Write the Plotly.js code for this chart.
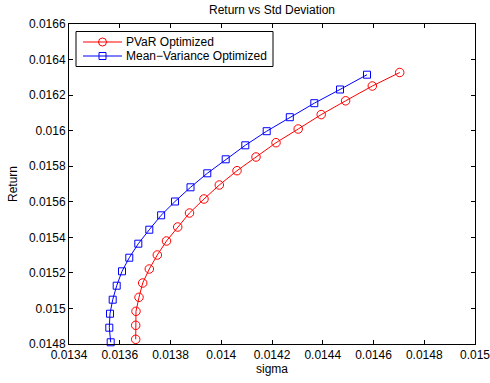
<!DOCTYPE html>
<html>
<head>
<meta charset="utf-8">
<script src="https://cdn.plot.ly/plotly-3.0.1.min.js"></script>
<style>html,body{margin:0;padding:0;background:#fff;}#chart{width:490px;height:383px;}</style>
</head>
<body>
<div id="chart"></div>
<script>
// PVaR Optimized frontier (sigma, return)
const pvarSigma = [0.0136629, 0.0136629, 0.0136640, 0.0136759, 0.0136904, 0.0137165, 0.0137480, 0.0137842, 0.0138284, 0.0138749,
                   0.0139320, 0.0139923, 0.0140621, 0.0141370, 0.0142158, 0.0143032, 0.0143939, 0.0144901, 0.0145953, 0.0147033];
const pvarReturn = [0.0148264, 0.0149052, 0.0149839, 0.0150627, 0.0151431, 0.0152219, 0.0153006, 0.0153794, 0.0154581, 0.0155369,
                    0.0156156, 0.0156944, 0.0157748, 0.0158519, 0.0159323, 0.0160094, 0.0160904, 0.0161680, 0.0162512, 0.0163272];
// Mean-Variance Optimized frontier (sigma, return)
const mvSigma = [0.0135643, 0.0135588, 0.0135616, 0.0135722, 0.0135880, 0.0136089, 0.0136376, 0.0136731, 0.0137165, 0.0137630,
                 0.0138177, 0.0138788, 0.0139450, 0.0140175, 0.0140948, 0.0141791, 0.0142702, 0.0143667, 0.0144680, 0.0145744];
const mvReturn = [0.0148096, 0.0148917, 0.0149704, 0.0150492, 0.0151279, 0.0152089, 0.0152854, 0.0153642, 0.0154429, 0.0155239,
                  0.0156016, 0.0156814, 0.0157602, 0.0158389, 0.0159177, 0.0159970, 0.0160757, 0.0161545, 0.0162316, 0.0163148];

const seriesNames = ["PVaR Optimized", "Mean\u2212Variance Optimized"];
const seriesColors = ["#ff0000", "#0000ff"];

const xTickVals = [0.0134, 0.0136, 0.0138, 0.014, 0.0142, 0.0144, 0.0146, 0.0148, 0.015];
const xTickText = ["0.0134", "0.0136", "0.0138", "0.014", "0.0142", "0.0144", "0.0146", "0.0148", "0.015"];
const yTickVals = [0.0148, 0.015, 0.0152, 0.0154, 0.0156, 0.0158, 0.016, 0.0162, 0.0164, 0.0166];
const yTickText = ["0.0148", "0.015", "0.0152", "0.0154", "0.0156", "0.0158", "0.016", "0.0162", "0.0164", "0.0166"];

const FONT = "Liberation Sans, Arial, Helvetica, sans-serif";
const FS = 12;

// plot-area geometry (pixels) used to place the hand-drawn MATLAB-style legend
const M = {l: 69, r: 15, t: 24, b: 39};
const W = 490, H = 383;
const PW = W - M.l - M.r, PH = H - M.t - M.b;
const px = v => (v - M.l) / PW;
const py = v => (H - M.b - v) / PH;

const traces = [
  {
    x: pvarSigma, y: pvarReturn, type: "scatter", mode: "lines+markers",
    name: seriesNames[0], showlegend: false,
    line: {color: seriesColors[0], width: 1},
    marker: {symbol: "circle-open", size: 8.5, color: seriesColors[0], line: {width: 1, color: seriesColors[0]}},
    cliponaxis: false
  },
  {
    x: mvSigma, y: mvReturn, type: "scatter", mode: "lines+markers",
    name: seriesNames[1], showlegend: false,
    line: {color: seriesColors[1], width: 1},
    marker: {symbol: "square-open", size: 7, color: seriesColors[1], line: {width: 1, color: seriesColors[1]}},
    cliponaxis: false
  }
];

// legend (box, sample lines, sample markers, labels)
const legBox = {x0: 76, x1: 273, y0: 31.5, y1: 66.5};
const legRows = [42, 56];
const legLine = {x0: 83, x1: 122, mx: 102.5};
const legTextX = 125;

const shapes = [{
  type: "rect", xref: "paper", yref: "paper",
  x0: px(legBox.x0), x1: px(legBox.x1), y0: py(legBox.y1), y1: py(legBox.y0),
  line: {color: "#000", width: 1}, fillcolor: "#fff", layer: "above"
}];
const annotations = [];
legRows.forEach((ry, i) => {
  shapes.push({type: "line", xref: "paper", yref: "paper",
    x0: px(legLine.x0), x1: px(legLine.x1), y0: py(ry), y1: py(ry),
    line: {color: seriesColors[i], width: 1}, layer: "above"});
  shapes.push({type: i === 0 ? "circle" : "rect", xref: "paper", yref: "paper",
    xsizemode: "pixel", ysizemode: "pixel", xanchor: px(legLine.mx), yanchor: py(ry),
    x0: i === 0 ? -4 : -3.5, x1: i === 0 ? 4 : 3.5, y0: i === 0 ? -4 : -3.5, y1: i === 0 ? 4 : 3.5,
    line: {color: seriesColors[i], width: 1}, fillcolor: "rgba(255,255,255,0)", layer: "above"});
  annotations.push({xref: "paper", yref: "paper", x: px(legTextX), y: py(ry),
    xanchor: "left", yanchor: "middle", showarrow: false, borderpad: 0,
    text: seriesNames[i], font: {family: FONT, size: FS, color: "#000"}});
});

const axisCommon = {
  showline: true, linecolor: "#000", linewidth: 1, mirror: "ticks",
  ticks: "inside", ticklen: 4, tickcolor: "#000", tickwidth: 1,
  showgrid: false, zeroline: false,
  tickfont: {family: FONT, size: FS, color: "#000"},
  tickmode: "array", ticklabeloverflow: "allow"
};

const layout = {
  width: W, height: H,
  margin: {l: M.l, r: M.r, t: M.t, b: M.b, pad: 0},
  paper_bgcolor: "#fff", plot_bgcolor: "#fff",
  font: {family: FONT, size: FS, color: "#000"},
  title: {text: "Return vs Std Deviation", font: {family: FONT, size: FS, color: "#000"},
          x: 0.5, xanchor: "center", y: 0.974, yanchor: "middle", xref: "paper", yref: "container"},
  xaxis: Object.assign({}, axisCommon, {
    range: [0.0134, 0.015], tickvals: xTickVals, ticktext: xTickText,
    title: {text: "sigma", font: {family: FONT, size: FS, color: "#000"}, standoff: 2}
  }),
  yaxis: Object.assign({}, axisCommon, {
    range: [0.0148, 0.0166], tickvals: yTickVals, ticktext: yTickText,
    title: {text: "Return", font: {family: FONT, size: FS, color: "#000"}, standoff: 8}
  }),
  showlegend: false,
  shapes: shapes,
  annotations: annotations
};

Plotly.newPlot("chart", traces, layout, {displayModeBar: false, staticPlot: true});
</script>
</body>
</html>
